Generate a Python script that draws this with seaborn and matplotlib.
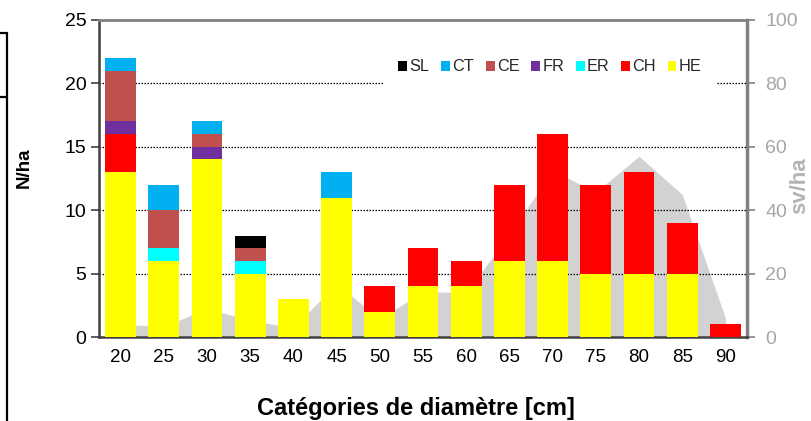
import numpy as np
import pandas as pd
import matplotlib
matplotlib.use("Agg")
import matplotlib.pyplot as plt
from matplotlib.patches import Patch
from matplotlib.lines import Line2D
import seaborn as sns

# ---- data ----
categories = ["20", "25", "30", "35", "40", "45", "50", "55", "60", "65", "70", "75", "80", "85", "90"]
HE = [13, 6, 14, 5, 3, 11, 2, 4, 4, 6, 6, 5, 5, 5, 0]
CH = [3, 0, 0, 0, 0, 0, 2, 3, 2, 6, 10, 7, 8, 4, 1]
ER = [0, 1, 0, 1, 0, 0, 0, 0, 0, 0, 0, 0, 0, 0, 0]
FR = [1, 0, 1, 0, 0, 0, 0, 0, 0, 0, 0, 0, 0, 0, 0]
CE = [4, 3, 1, 1, 0, 0, 0, 0, 0, 0, 0, 0, 0, 0, 0]
CT = [1, 2, 1, 0, 0, 2, 0, 0, 0, 0, 0, 0, 0, 0, 0]
SL = [0, 0, 0, 1, 0, 0, 0, 0, 0, 0, 0, 0, 0, 0, 0]
sv_ha = [4, 3.3, 9, 5.2, 3, 16.8, 5.7, 14.3, 14, 32.5, 52.5, 45.7, 57, 45, 6]

species = ["HE", "CH", "ER", "FR", "CE", "CT", "SL"]
colors = {"HE": "#FFFF00", "CH": "#FF0000", "ER": "#00FFFF", "FR": "#7030A0",
          "CE": "#C0504D", "CT": "#00B0F0", "SL": "#000000"}
values = {"HE": HE, "CH": CH, "ER": ER, "FR": FR, "CE": CE, "CT": CT, "SL": SL}

sns.set_theme(style="white")
plt.rcParams["font.family"] = ["Liberation Sans", "DejaVu Sans"]

fig = plt.figure(figsize=(8.11, 4.21), dpi=100)
ax = fig.add_axes([99 / 811, 84 / 421, 648 / 811, 317 / 421])
ax2 = ax.twinx()

# area on secondary axis (behind)
x = np.arange(len(categories))
ax2.fill_between(x, sv_ha, 0, color="#D2D2D2", linewidth=0)
ax2.set_ylim(0, 100)
ax.set_zorder(ax2.get_zorder() + 1)
ax.patch.set_visible(False)

# stacked bars via cumulative overlay
df = pd.DataFrame(values, index=categories)
cum = df[species].cumsum(axis=1)
for sp in reversed(species):
    sns.barplot(x=categories, y=cum[sp].values, color=colors[sp], width=0.71,
                saturation=1, ax=ax, zorder=3, linewidth=0)

ax.set_xlim(-0.5, len(categories) - 0.5)
ax.set_ylim(0, 25)
ax.set_yticks([0, 5, 10, 15, 20, 25])
ax.set_yticklabels(["0", "5", "10", "15", "20", "25"])
ax.set_xticks(x)
ax.set_xticklabels(categories)
ax.set_xticks(np.arange(-0.5, len(categories), 1.0), minor=True)
ax.tick_params(axis="x", which="major", length=0, pad=9, labelsize=13.5, colors="black")
ax.tick_params(axis="x", which="minor", length=6, width=1.2, color="#404040", direction="out")
ax.tick_params(axis="y", which="major", length=6, width=1.2, color="#404040",
               direction="out", pad=3, labelsize=14, labelcolor="black")
ax.set_xlabel("")
ax.set_ylabel("")

# grid lines
for yv in [5, 10, 15, 20]:
    ax.axhline(yv, color="black", linestyle=(0, (1.2, 1.2)), linewidth=0.9, zorder=1)

ax2.set_yticks([0, 20, 40, 60, 80, 100])
ax2.tick_params(axis="y", length=6, width=1.2, color="#808080", direction="out",
                pad=7, labelsize=14, labelcolor="#A6A6A6")

for s in ["left", "bottom"]:
    ax.spines[s].set_color("#404040")
    ax.spines[s].set_linewidth(1.8)
ax.spines["top"].set_color("#808080")
ax.spines["top"].set_linewidth(2)
ax.spines["right"].set_visible(False)
for s in ["left", "bottom", "top"]:
    ax2.spines[s].set_visible(False)
ax2.spines["right"].set_color("#808080")
ax2.spines["right"].set_linewidth(2.5)

# legend
handles = [Patch(facecolor=colors[sp], edgecolor="none", label=sp) for sp in reversed(species)]
leg = ax.legend(handles=handles, loc="center", bbox_to_anchor=(0.696, 0.852), ncol=7,
                frameon=True, fancybox=False, facecolor="white", edgecolor="none",
                framealpha=1, fontsize=11.7, handlelength=0.55, handleheight=0.55,
                handletextpad=0.15, columnspacing=0.7, borderpad=0.9, borderaxespad=0)
leg.set_zorder(10)

# axis labels
fig.text(24 / 811, 1 - 168 / 421, "N/ha", rotation=90, ha="center", va="center",
         fontsize=13.5, fontweight="bold", color="black")
fig.text(800 / 811, 1 - 186 / 421, "sv/ha", rotation=90, ha="center", va="center",
         fontsize=16, fontweight="bold", color="#B4B4B4")
fig.text(416 / 811, 1 - 408 / 421, "Catégories de diamètre [cm]", ha="center", va="center",
         fontsize=17, fontweight="bold", color="black")

# stray frame lines at left edge
fig.add_artist(Line2D([0, 6.5 / 811], [1 - 33 / 421, 1 - 33 / 421], color="black", lw=1.6))
fig.add_artist(Line2D([0, 6.5 / 811], [1 - 97 / 421, 1 - 97 / 421], color="black", lw=1.6))
fig.add_artist(Line2D([6.5 / 811, 6.5 / 811], [0, 1 - 33 / 421], color="black", lw=1.6))

fig.savefig("out.png", dpi=100)
